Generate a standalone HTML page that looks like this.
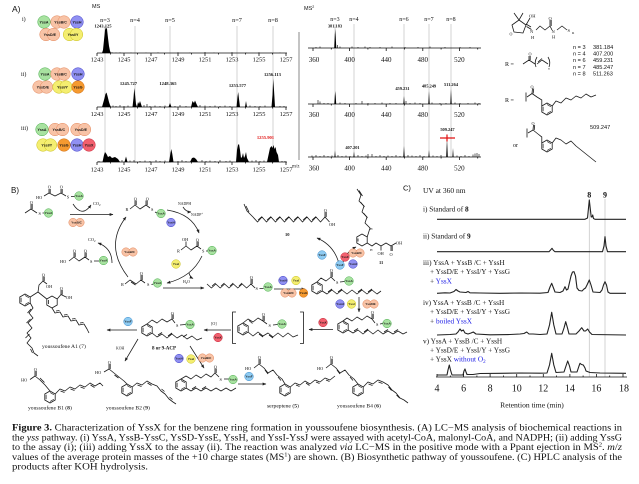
<!DOCTYPE html>
<html><head><meta charset="utf-8"><style>
html,body{margin:0;padding:0;background:#fff;width:639px;height:484px;overflow:hidden}
svg{display:block}
.s{font-family:"Liberation Serif",serif;fill:#111}
.a{font-family:"Liberation Sans",sans-serif;fill:#111}
.pl{font-family:"Liberation Sans",sans-serif;font-size:3px;font-weight:bold;text-anchor:middle;fill:#111}
.pa{font-size:3.6px}
.g{fill:#a8e2a0;stroke:#4caf50;stroke-width:.5}
.o{fill:#f8c3a6;stroke:#e3875c;stroke-width:.5}
.b{fill:#9090f2;stroke:#4040c8;stroke-width:.5}
.y{fill:#f4ee70;stroke:#c9c020;stroke-width:.5}
.d{fill:#f59a30;stroke:#d06a10;stroke-width:.5}
.r{fill:#f2606e;stroke:#c8283a;stroke-width:.5}
.l{fill:#8ecbf2;stroke:#3c8ccc;stroke-width:.5}
.bd{fill:none;stroke:#1a1a1a;stroke-width:.8;stroke-linejoin:round}
.ax{stroke:#111;stroke-width:.8;fill:none}
.gl{stroke:#c8c8c8;stroke-width:.8}
.ar{fill:none;stroke:#1a1a1a;stroke-width:.75;marker-end:url(#ah)}
.nz{stroke:#000;stroke-width:.6;fill:none}
.tr{fill:none;stroke:#222;stroke-width:1.1;stroke-linejoin:round}
.c{text-anchor:middle}
</style></head><body>
<svg width="639" height="484" viewBox="0 0 639 484" xmlns="http://www.w3.org/2000/svg">
<defs>
<marker id="ah" viewBox="0 0 10 10" refX="9" refY="5" markerWidth="5" markerHeight="5" orient="auto"><path d="M0,1 L10,5 L0,9 z" fill="#222"/></marker>
<g id="bz"><polygon points="0,-6 5.2,-3 5.2,3 0,6 -5.2,3 -5.2,-3" fill="none" stroke="#1a1a1a" stroke-width=".8"/><path d="M0,-4.5 L3.9,-2.25 M3.9,2.25 L0,4.5 M-3.9,2.25 L-3.9,-2.25" stroke="#1a1a1a" stroke-width=".7"/></g>
</defs>

<!-- ============ PANEL A ============ -->
<text x="12" y="12" class="a" font-size="8.5">A)</text>
<text x="92" y="8" class="a" font-size="5.5">MS</text>
<text x="22" y="21" class="s" font-size="6">i)</text>
<text x="21" y="76" class="s" font-size="6">ii)</text>
<text x="21" y="130" class="s" font-size="6">iii)</text>

<circle cx="44" cy="22" r="6.3" class="g"/><text x="44" y="23.3" class="pl pa">YssA</text>
<circle cx="57" cy="22" r="6.3" class="o"/><circle cx="64" cy="22" r="6.3" class="o"/><text x="60.5" y="23.3" class="pl pa">YssB/C</text>
<circle cx="77" cy="22" r="6.3" class="b"/><text x="77" y="23.3" class="pl pa">YssH</text>
<circle cx="46" cy="34.5" r="6.3" class="o"/><circle cx="53.5" cy="34.5" r="6.3" class="o"/><text x="49.8" y="35.8" class="pl pa">YssD/E</text>
<circle cx="69.5" cy="34.5" r="6.3" class="y"/><circle cx="76.5" cy="34.5" r="6.3" class="y"/><text x="73" y="35.8" class="pl pa">YssI/Y</text>
<circle cx="45" cy="74" r="6.3" class="g"/><text x="45" y="75.3" class="pl pa">YssA</text>
<circle cx="57" cy="74" r="6.3" class="o"/><circle cx="64" cy="74" r="6.3" class="o"/><text x="60.5" y="75.3" class="pl pa">YssB/C</text>
<circle cx="78" cy="74" r="6.3" class="b"/><text x="78" y="75.3" class="pl pa">YssH</text>
<circle cx="39" cy="87" r="6.3" class="o"/><circle cx="46.5" cy="87" r="6.3" class="o"/><text x="42.8" y="88.3" class="pl pa">YssD/E</text>
<circle cx="59" cy="87" r="6.3" class="y"/><circle cx="66" cy="87" r="6.3" class="y"/><text x="62.5" y="88.3" class="pl pa">YssI/Y</text>
<circle cx="78" cy="87" r="6.3" class="d"/><text x="78" y="88.3" class="pl pa">YssG</text>
<circle cx="42" cy="129.5" r="6.3" class="g"/><text x="42" y="130.8" class="pl pa">YssA</text>
<circle cx="55" cy="129.5" r="6.3" class="o"/><circle cx="62.5" cy="129.5" r="6.3" class="o"/><text x="58.8" y="130.8" class="pl pa">YssB/C</text>
<circle cx="77" cy="129.5" r="6.3" class="o"/><circle cx="84.5" cy="129.5" r="6.3" class="o"/><text x="80.8" y="130.8" class="pl pa">YssD/E</text>
<circle cx="43" cy="145" r="6.3" class="y"/><circle cx="50.5" cy="145" r="6.3" class="y"/><text x="46.8" y="146.3" class="pl pa">YssI/Y</text>
<circle cx="64" cy="145" r="6.3" class="d"/><text x="64" y="146.3" class="pl pa">YssG</text>
<circle cx="77" cy="145" r="6.3" class="b"/><text x="77" y="146.3" class="pl pa">YssH</text>
<circle cx="89" cy="145" r="6.3" class="r"/><text x="89" y="146.3" class="pl pa">YssX</text>

<g class="gl">
<line x1="105" y1="26" x2="105" y2="163"/><line x1="135" y1="26" x2="135" y2="163"/><line x1="170" y1="26" x2="170" y2="163"/><line x1="237" y1="26" x2="237" y2="163"/><line x1="273" y1="26" x2="273" y2="163"/>
</g>
<g class="s" font-size="6.3">
<text x="105" y="22" class="c">n=3</text><text x="135" y="22" class="c">n=4</text><text x="170" y="22" class="c">n=5</text><text x="237" y="22" class="c">n=7</text><text x="273" y="22" class="c">n=8</text>
</g>
<g class="s" font-size="4.6" font-weight="bold">
<text x="103" y="27.3" class="c">1243.125</text>
<text x="128.5" y="85" class="c">1245.727</text>
<text x="168" y="85" class="c">1248.365</text>
<text x="237.5" y="87" class="c">1253.577</text>
<text x="272.5" y="76" class="c">1256.113</text>
<text x="265.5" y="139" class="c" fill="#e01010">1255.901</text>
</g>

<g class="ax">
<path d="M97,53H287M97,107H287M97,162H287"/>
<path d="M97,53v3M124,53v3M151,53v3M178,53v3M205,53v3M232,53v3M259,53v3M286,53v3M110.5,53v1.5M137.5,53v1.5M164.5,53v1.5M191.5,53v1.5M218.5,53v1.5M245.5,53v1.5M272.5,53v1.5"/>
<path d="M97,107v3M124,107v3M151,107v3M178,107v3M205,107v3M232,107v3M259,107v3M286,107v3M110.5,107v1.5M137.5,107v1.5M164.5,107v1.5M191.5,107v1.5M218.5,107v1.5M245.5,107v1.5M272.5,107v1.5"/>
<path d="M97,162v3M124,162v3M151,162v3M178,162v3M205,162v3M232,162v3M259,162v3M286,162v3M110.5,162v1.5M137.5,162v1.5M164.5,162v1.5M191.5,162v1.5M218.5,162v1.5M245.5,162v1.5M272.5,162v1.5"/>
</g>
<g class="s" font-size="6.4">
<text x="97" y="61.5" class="c">1243</text><text x="124" y="61.5" class="c">1245</text><text x="151" y="61.5" class="c">1247</text><text x="178" y="61.5" class="c">1249</text><text x="205" y="61.5" class="c">1251</text><text x="232" y="61.5" class="c">1253</text><text x="259" y="61.5" class="c">1255</text><text x="286" y="61.5" class="c">1257</text>
<text x="97" y="116" class="c">1243</text><text x="124" y="116" class="c">1245</text><text x="151" y="116" class="c">1247</text><text x="178" y="116" class="c">1249</text><text x="205" y="116" class="c">1251</text><text x="232" y="116" class="c">1253</text><text x="259" y="116" class="c">1255</text><text x="286" y="116" class="c">1257</text>
<text x="97" y="171.5" class="c">1243</text><text x="124" y="171.5" class="c">1245</text><text x="151" y="171.5" class="c">1247</text><text x="178" y="171.5" class="c">1249</text><text x="205" y="171.5" class="c">1251</text><text x="232" y="171.5" class="c">1253</text><text x="259" y="171.5" class="c">1255</text><text x="286" y="171.5" class="c">1257</text>
</g>
<text x="292" y="167.5" class="s" font-size="5">m/z</text>

<g fill="#000">
<path d="M102,53 L103,50 L104,40 L105,30 L106,27.5 L107,29 L108,38 L109,46 L110,51 L111,53Z"/>
<path d="M102,107 L104,100 L105.5,94 L106.5,92.5 L107.5,96 L109,102 L110,105 L111,107Z"/>
<path d="M132.5,107 L133.5,98 L134.3,88 L135.2,96 L136,104 L137,107Z M137,107 L138,102 L139,104 L140,101 L141,104 L142,107Z"/>
<path d="M168.5,107 L170,103 L171.5,107Z M191,107 L192.5,101 L194,103 L195,100.5 L196.5,104 L198,107Z"/>
<path d="M236.5,107 L237.5,97 L238.2,92 L239,99 L240,107Z M245,107 L246,101 L247,107Z"/>
<path d="M271.5,107 L272.5,95 L273.2,78.5 L274,90 L275,107Z"/>
<path d="M102.5,162 L104,155 L105,152 L106.5,154 L108,157 L110,156 L112,158 L115,157 L118,159 L120,162Z"/>
<path d="M124.5,162 L126,156.5 L127.5,162Z M169,162 L170.5,153 L171.3,149 L172.3,154 L173.5,162Z M190,162 L192,158 L194,157.5 L196,159 L198,162Z"/>
<path d="M236,162 L237,150 L238,145 L239,144 L240,150 L241,158 L242,157 L243,153 L244,158 L245,156 L246,152 L247,158 L249,162Z"/>
<path d="M267,162 L268.5,155 L270,148 L271.5,146 L272.5,148 L273.5,145 L274.5,149 L275.5,147 L276.5,152 L278,155 L279,162Z"/>
</g>
<path class="nz" d="M112,53v-.8M116,53v-.5M120,53v-.6M131,53v-.5M146,53v-.5M158,53v-.6M178,53v-.8M190,53v-.5M205,53v-1M214,53v-.5M232,53v-.9M246,53v-.5M259,53v-.7M271,53v-.5M280,53v-.5"/>
<path class="nz" d="M113,107v-1.5M116,107v-1M120,107v-2M124,107v-1M128,107v-1.5M144,107v-2M147,107v-3M150,107v-1M155,107v-1.5M160,107v-1M165,107v-1.5M175,107v-1M180,107v-2M186,107v-1M200,107v-2M205,107v-1.5M210,107v-1M215,107v-1.5M220,107v-1M225,107v-1.5M230,107v-1M250,107v-1.5M255,107v-1M260,107v-1M265,107v-1.5M280,107v-1M284,107v-1"/>
<path class="nz" d="M99,162v-1M122,162v-2M130,162v-1.5M134,162v-2M140,162v-1M145,162v-1.5M150,162v-1M156,162v-2M160,162v-1M165,162v-1.5M178,162v-1M182,162v-2M186,162v-1M202,162v-2M206,162v-1M210,162v-1.5M215,162v-1M220,162v-2M226,162v-1M230,162v-1.5M252,162v-1.5M256,162v-2M260,162v-1M264,162v-1.5M282,162v-1M285,162v-1"/>

<line x1="299" y1="32" x2="299" y2="160" stroke="#aaa" stroke-width="1.4"/>

<text x="304" y="10" class="a" font-size="5.5">MS<tspan font-size="3.6" dy="-2">2</tspan></text>
<g class="gl">
<line x1="335" y1="24" x2="335" y2="158"/><line x1="354" y1="24" x2="354" y2="158"/><line x1="404" y1="24" x2="404" y2="158"/><line x1="429" y1="24" x2="429" y2="158"/><line x1="451" y1="24" x2="451" y2="158"/>
</g>
<g class="s" font-size="6">
<text x="335" y="21" class="c">n=3</text><text x="354" y="21" class="c">n=4</text><text x="404" y="21" class="c">n=6</text><text x="429" y="21" class="c">n=7</text><text x="451" y="21" class="c">n=8</text>
</g>
<g class="s" font-size="4.4" font-weight="bold">
<text x="335" y="27.5" class="c">381.183</text>
<text x="402.5" y="90" class="c">459.231</text>
<text x="429" y="87.5" class="c">485.249</text>
<text x="451" y="86" class="c">511.264</text>
<text x="447.5" y="131" class="c">509.247</text>
<text x="352.5" y="149" class="c">407.201</text>
</g>
<g class="ax">
<path d="M308,48H481M308,104H481M308,157H481"/>
<path d="M313,48v3M349.6,48v3M386.2,48v3M422.8,48v3M459.4,48v3M331.3,48v1.5M367.9,48v1.5M404.5,48v1.5M441.1,48v1.5M477.7,48v1.5"/>
<path d="M313,104v3M349.6,104v3M386.2,104v3M422.8,104v3M459.4,104v3M331.3,104v1.5M367.9,104v1.5M404.5,104v1.5M441.1,104v1.5M477.7,104v1.5"/>
<path d="M313,157v3M349.6,157v3M386.2,157v3M422.8,157v3M459.4,157v3M331.3,157v1.5M367.9,157v1.5M404.5,157v1.5M441.1,157v1.5M477.7,157v1.5"/>
</g>
<g class="s" font-size="7">
<text x="314" y="62" class="c">360</text><text x="349.6" y="62" class="c">400</text><text x="386.2" y="62" class="c">440</text><text x="422.8" y="62" class="c">480</text><text x="459.4" y="62" class="c">520</text>
<text x="314" y="117" class="c">360</text><text x="349.6" y="117" class="c">400</text><text x="386.2" y="117" class="c">440</text><text x="422.8" y="117" class="c">480</text><text x="459.4" y="117" class="c">520</text>
<text x="314" y="170.5" class="c">360</text><text x="349.6" y="170.5" class="c">400</text><text x="386.2" y="170.5" class="c">440</text><text x="422.8" y="170.5" class="c">480</text><text x="459.4" y="170.5" class="c">520</text>
</g>
<g fill="#000">
<path d="M334.2,48 L334.8,35 L335.2,29 L335.7,36 L336.3,48Z"/>
<path d="M334.3,104 L334.8,96 L335.2,91 L335.7,96 L336.2,104Z M403.3,104 L404,96 L404.7,104Z M428.3,104 L429,91 L429.7,104Z M450.3,104 L451,89 L451.7,104Z"/>
<path d="M334.4,157 L335,150.5 L335.6,157Z M353.4,157 L354,151.5 L354.6,157Z M403.3,157 L404,146 L404.7,157Z M428.4,157 L429,150 L429.6,157Z M446.2,157 L447,138 L447.8,157Z M452.4,157 L453,148 L453.6,157Z"/>
</g>
<path class="nz" d="M316,48v-1M320,48v-1.5M337.5,48v-3M340,48v-1.5M352,48v-1.5M358,48v-1M365,48v-1.5M370,48v-1M380,48v-1M392,48v-1.5M405,48v-1M418,48v-1M430,48v-1.5M445,48v-1M460,48v-1M470,48v-1"/>
<path class="nz" d="M318,104v-4M320,104v-2.5M324,104v-1M328,104v-1M340,104v-1.5M345,104v-1M356,104v-1M362,104v-3M368,104v-1M375,104v-1M382,104v-1.5M390,104v-1M396,104v-1M406,104v-3M410,104v-1M415,104v-1.5M420,104v-1M432,104v-1.5M440,104v-1M446,104v-1M455,104v-1.5M460,104v-1M468,104v-1M475,104v-1.5M479,104v-1"/>
<path class="nz" d="M312,157v-1.5M316,157v-2M320,157v-1M324,157v-2M328,157v-1M332,157v-1.5M338,157v-2M342,157v-1M346,157v-1.5M350,157v-1M358,157v-2M362,157v-1M366,157v-1.5M368,157v-3M372,157v-3M376,157v-1M380,157v-2M384,157v-1M388,157v-1.5M392,157v-1M396,157v-2M400,157v-1M408,157v-2M412,157v-1.5M416,157v-1M420,157v-2M424,157v-1M433,157v-1.5M437,157v-1M441,157v-2M457,157v-1.5M461,157v-1M465,157v-2M469,157v-1M473,157v-2.5M475,157v-3.5M477,157v-4M479,157v-3"/>
<path d="M440,138H455M447,134.5V141.5" stroke="#e01010" stroke-width="1.2"/>

<g class="bd">
<polygon points="512,25 519,20 526,25 523,33 514,32"/>
<path d="M519,20 L514,13 M519,20 L523,13 M526,25 L530,18 M526.5,26.5 L531.5,29.5 M526,24 L531,27 M536,30 L540,26 L545,30 L550,26 L552,30 M550,26 L550,20 M551.2,26 L551.2,20 M557,30 L562,26 L567,30"/>
</g>
<g class="s" font-size="4.5">
<text x="529" y="17.5">OH</text><text x="530" y="33">N</text><text x="531" y="39">H</text><text x="548.5" y="20">O</text><text x="551.5" y="33">N</text><text x="552" y="38.5">H</text><text x="567.5" y="32">S</text><text x="572" y="34" font-size="3.5">R</text><text x="509.5" y="35.5" font-size="4">O</text>
</g>
<g class="a" font-size="5.6">
<text x="573" y="49">n = 3</text><text x="593" y="49">381.184</text>
<text x="573" y="55.6">n = 4</text><text x="593" y="55.6">407.200</text>
<text x="573" y="62.2">n = 6</text><text x="593" y="62.2">459.231</text>
<text x="573" y="68.8">n = 7</text><text x="593" y="68.8">485.247</text>
<text x="573" y="75.4">n = 8</text><text x="593" y="75.4">511.263</text>
<text x="590" y="129">509.247</text>
</g>
<g class="s" font-size="6">
<text x="505" y="66">R =</text><text x="505" y="102">R =</text><text x="513" y="147">or</text>
</g>
<g class="bd">
<path d="M523,64 L529,60 L535,64 M529,60 L529,56 M530.2,60 L530.2,56 M536,67 Q534,62 537,57 M537,64 L542,60 L548,64 M538,62 L542,58.5 M548,57 Q551,62 549,67"/>
<path d="M526,92.5 V101.5 M527,97 L532,93.5 L537,97 L541.8,100 L541.8,106 M532,93.5 L532.5,88.5 M533.2,93.5 L533.7,88.5 M552.2,106 L556,101 L561,103 L566,98 L571,100 L576,96 L581,98 L586,94 L591,97 L596,95"/>
<path d="M527,128.5 V137.5 M528,133 L533,130 L538,134 L541.8,137 L541.8,143 M533,130 L533.5,125 M534.2,130 L534.7,125 M552.2,143 L556,138 L561,140 L566,144 L571,141 L576,146 L581,150 L586,154 L591,158 L596,162"/>
</g>
<use href="#bz" x="547" y="109"/><use href="#bz" x="547" y="146"/>
<g class="s" font-size="4.2"><text x="528.5" y="55.5">O</text><text x="530.5" y="88.5">O</text><text x="531.5" y="125">O</text><text x="548" y="69.5" font-size="3.5">n</text></g>

<!-- ============ PANEL B ============ -->
<text x="11" y="193" class="a" font-size="8">B)</text>
<g class="bd">
<path d="M44,196 L49,193 L55,196 L61,193 L66,196 M49,193 L49,189 M50.2,193 L50.2,189 M61,193 L61,189 M62.2,193 L62.2,189 M71,196.5 L74.7,196.5"/>
<path d="M25,213 L31,209 L37,213 M31,209 L31,204 M32.2,209 L32.2,204 M42.5,213 L44.5,213"/>
<path d="M130,209 L135,205 L140,209 L146,205 L150,208 M135,205 L135,200.5 M136.2,205 L136.2,200.5 M146,205 L146,200.5 M147.2,205 L147.2,200.5 M155,212 L157,213"/>
<path d="M181,250 L186,246 L191,250 L197,246 L201,249 M186,246 L186,241.5 M197,246 L197,241.5 M198.2,246 L198.2,241.5 M206,251 L208,251"/>
<path d="M125,284 L130,280 L136,284 L141,280 L145,283 M131,282 L135.5,285 M141,280 L141,275 M142.2,280 L142.2,275 M151.5,284.5 L153.5,284"/>
<path d="M69,261 L74,257 L79,261 L85,257 L89,260 M74,257 L74,252.5 M75.2,257 L75.2,252.5 M85,257 L85,252.5 M86.2,257 L86.2,252.5 M94,261 L99.5,261"/>
<polyline points="244,204 247,211 253,217 257.5,222 262,217 266.5,222 271,217 275.5,222 280,217 284.5,222 289,217 293.5,222 298,217 302.5,222 307,217 311.5,222 316,217 320.5,222 325,217 329.5,222"/>
<path d="M246,206 L249,212 M258,220 L262,216.5 M267,220 L271,216.5 M276,220 L280,216.5 M285,220 L289,216.5 M294,220 L298,216.5 M303,220 L307,216.5 M312,220 L316,216.5 M325,217 L325,212 M326.2,217 L326.2,212"/>
<polyline points="357,189 361,195 359,201 364,206 362,212 367,217 365,223 370,228 367.2,237"/>
<path d="M359,190.5 L362.5,196 M360.5,202 L364.5,207 M363.5,213 L367.5,218 M367.2,243 L372,246 L376,243 L381,246 L386,243 L391,246 L396,243 M381,246 L381,250.5 M391,246 L391,251 M392.2,246 L392.2,251"/>
<polygon points="362,234 367.2,237 367.2,243 362,246 356.8,243 356.8,237"/>
<path d="M358,238.5 L358,241.5"/>
<polyline points="207,284 211.4,288 215.8,284 220.2,288 224.6,284 229,288 233.4,284 237.8,288 242.2,284 246.6,288 251,284 255,288"/>
<path d="M212,286 L215.6,283 M221,286 L224.4,283 M230,286 L233.2,283 M239,286 L242,283 M251,284 L251,279 M252.2,284 L252.2,279 M259.5,288.5 L263.5,288.5"/>
<path d="M317,282 L321,278 L326,281 L331,277 L335,281 M331,277 L331,272 M332.2,277 L332.2,272 M340,282 L344.5,281.5 M322.2,291 L327,294 L332,290 L337,294 L342,290 L347,294 L352,290 L357,294 L362,290 L367,294 L372,290 L377,294 L381,291 M328,292 L332,289 M338,292 L342,289 M358,292 L362,289 M368,292 L372,289"/>
<path d="M343,321 L347,318 L352,321 L357,317 L362,320 L367,316 L372,319 L375,323 M372,319 L372,314 M373.2,319 L373.2,314 M380,324 L382.5,323.5 M348,330 L353,333 L358,330 L363,334 L368,330 L373,334 L378,330 L383,334 L388,331 L393,334 L398,331 L403,334 L407,332 M354,331 L358,328.5 M364,332 L368,329 M384,332 L388,329.5 M394,332 L398,329.5"/>
<path d="M236,312 L232.5,312 L232.5,343.5 L236,343.5 M300,312 L303.5,312 L303.5,343.5 L300,343.5"/>
<path d="M243,323 L248,319 L253,322 L258,318 L263,321 L267,324 M263,321 L263,316 M264.2,321 L264.2,316 M273,325 L277.5,324.5 M248,332 L253,336 L258,332 L263,336 L268,333 L273,337 L278,333 L283,337 L288,333 L293,337 L298,335 M249,320.5 L252.5,323.5 M259,334 L263,337 M269,335 L273,338"/>
<path d="M147,324 L152,320 L157,323 L162,319 L167,322 L172,319 L175,323 M172,319 L172,314.5 M173.2,319 L173.2,314.5 M180,325 L185.5,324.5 M152,333 L157,337 L162,334 L167,338 L172,334 L177,338 L182,335 L187,339 L192,336 L197,340 L202,338 M158,335 L162,332.5 M168,336 L172,333 M183,337 L187,334.5"/>
<path d="M181,379 L186,376 L191,379 L196,375 L201,378 L206,374 L211,377 L215,373 L219,377 M215,373 L215,368.5 M216.2,373 L216.2,368.5 M224,379 L228.5,379 M186,388 L191,391 L196,388 L201,391 L206,388 L211,391 L216,388 L221,391 L226,388 L231,391 L236,388 M192,389 L196,386.5 M202,389 L206,386.5"/>
<path d="M30.2,297 L38,292 L46.8,299 M38,292 L39,285 L43,281 L47,284 M43,281 L43,276.5 M44.2,281 L44.2,276.5 M57.2,299 L61,294.5 L66,297 M61,294.5 L61,290 M62.2,294.5 L62.2,290"/>
<polygon points="52,296 57.2,299 57.2,305 52,308 46.8,305 46.8,299"/>
<path d="M48.5,300 L48.5,304"/>
<polyline points="30.2,303 33,308 29,313 33,318 28,323 32,328 27,333 31,338 27,343 32,348 34,353 38,356"/>
<path d="M31,309 L27.5,313 M30.5,319 L26.5,323 M29.5,334 L25.5,338 M30.5,349 L32.5,353"/>
<polyline points="52,308 55,313 60,312 63,317 68,316 71,321 76,320 79,325 84,324 87,329 89,333"/>
<path d="M56,311 L59.5,310.5 M64,315 L67.5,314.5 M72,319 L75.5,318.5 M80,323 L83.5,322.5"/>
<path d="M30,379.5 L35,376 L40,380 L45,385 L50,391 M35,376 L35,371 M36.2,376 L36.2,371 M40,378 L44.5,382.5 M55.2,394 L60,389 L65,391 L70,387 L75,389 L80,385 L85,387 L90,383 L95,386 L100,383 L103,386 M60.5,391 L64.5,392.5 M70.5,389 L74.5,390.5 M80.5,387 L84.5,388.5 M90.5,385 L94.5,387.5"/>
<path d="M104,372 L109,369 L114,373 L119,377 L124,381 L127,384 M109,369 L109,364 M110.2,369 L110.2,364 M114.5,375 L118.5,378 M132.2,387 L137,383 L142,385 L147,381 L152,384 L157,386 L161,391 L165,394 L169,399 L173,402 L176,404 M137.5,385 L141.5,386.5 M147.5,383 L151.5,385.5 M161.5,389 L164.5,391.5 M169.5,397 L172.5,399.5"/>
<path d="M254,368 L259,364 L264,368 L268,373 L273,370 L277,375 L282,379 L285,384 M259,364 L259,359 M260.2,364 L260.2,359 M265,370 L268,374 M278,377 L281,380.5 M290.2,387 L295,383 L300,385 L305,381 L310,384 L315,380 L320,382 L325,378 L330,380 L335,376 M296,385 L299.5,386.5 M306,383 L309.5,385.5 M316,382 L319.5,383.5 M326,380 L329.5,381.5"/>
<path d="M326,368 L331,364 L336,368 L340,373 L345,370 L349,375 L354,379 L358,384 M331,364 L331,359 M332.2,364 L332.2,359 M337,370 L340,374 M350,377 L353,380.5 M363.2,387 L368,382 L373,384 L378,380 L383,382 L388,385 L392,390 L396,393 L400,398 L404,400 L408,403 M368.5,384 L372.5,385.5 M378.5,382 L382.5,383.5 M388.5,387 L391.5,390.5 M396.5,395 L399.5,398"/>
</g>
<use href="#bz" x="317" y="288"/><use href="#bz" x="343" y="327"/><use href="#bz" x="243" y="329"/><use href="#bz" x="147" y="330"/><use href="#bz" x="181" y="385"/><use href="#bz" x="25" y="300"/><use href="#bz" x="50" y="397"/><use href="#bz" x="127" y="390"/><use href="#bz" x="285" y="390"/><use href="#bz" x="358" y="390"/>

<path class="ar" d="M73,204 Q82,218 91,205"/>
<path class="ar" d="M70,214.5 L113,214.5"/>
<path class="ar" d="M183,207 Q186,212 191,212"/>
<path class="ar" d="M167,210 Q192,214 199,233"/>
<path class="ar" d="M202,256 Q192,277 167,283"/>
<path class="ar" d="M189,273 Q190,277 193,278.5"/>
<path class="ar" d="M163,288 L204,288"/>
<path class="ar" d="M112,263 Q112,248 98,243"/>
<path class="ar" d="M128,277 Q104,246 126,217"/>
<path class="ar" d="M340,268 Q336,246 317,238"/>
<path class="ar" d="M343,262 Q347,251 356,247"/>
<path class="ar" d="M274,289 L305,289"/>
<path class="ar" d="M359,297 L359,312"/>
<path class="ar" d="M333,329.5 L309,329.5"/>
<path class="ar" d="M231,330 L204,330"/>
<path class="ar" d="M137,330 L107,330"/>
<path class="ar" d="M138,339 L125,361"/>
<path class="ar" d="M190,346 L204,368"/>
<path class="ar" d="M238,384 L266,384"/>

<g class="s" font-size="4.3">
<text x="36" y="199">HO</text><text x="47.8" y="188.5">O</text><text x="59.8" y="188.5">O</text><text x="66.8" y="198.5">S</text>
<text x="29.8" y="204">O</text><text x="38.5" y="215">S</text>
<text x="93" y="205">CO<tspan font-size="3" dy="1">2</tspan></text>
<text x="125.5" y="211">R</text><text x="133.8" y="200.5">O</text><text x="145.8" y="200.5">O</text><text x="151" y="211">S</text>
<text x="178" y="205" font-size="3.8">NADPH</text><text x="191" y="216" font-size="3.8">NADP<tspan font-size="2.8" dy="-1.5">+</tspan></text>
<text x="182" y="241">OH</text><text x="177" y="252.5">R</text><text x="195.8" y="241.5">O</text><text x="202" y="252.5">S</text>
<text x="183" y="283" font-size="3.8">H<tspan font-size="2.8" dy="1">2</tspan><tspan dy="-1">O</tspan></text>
<text x="121" y="286">R</text><text x="139.8" y="275">O</text><text x="147" y="286">S</text>
<text x="88" y="241">CO<tspan font-size="3" dy="1">2</tspan></text>
<text x="60" y="263">HO</text><text x="72.8" y="252.5">O</text><text x="83.8" y="252.5">O</text><text x="90" y="263">S</text>
<text x="323.8" y="212">O</text><text x="329" y="226">OH</text>
<text x="285" y="236" font-size="4.5" font-weight="bold">10</text>
<text x="370" y="230" font-size="3.5">H</text><text x="370" y="251" font-size="3.5">H</text>
<text x="377.5" y="255">OH</text><text x="389.5" y="256">O</text><text x="396" y="244.5">OH</text>
<text x="379" y="264" font-size="4.5" font-weight="bold">11</text>
<text x="249.8" y="279">O</text><text x="255.5" y="290">S</text>
<text x="329.8" y="272">O</text><text x="336" y="284">S</text>
<text x="370.8" y="314">O</text><text x="376" y="326">S</text>
<text x="261.8" y="316">O</text><text x="268.5" y="327">S</text>
<text x="211" y="325" font-size="4">[O]</text>
<text x="170.8" y="315">O</text><text x="176" y="327">S</text>
<text x="116" y="349.5" font-size="3.8">KOH</text>
<text x="213.8" y="368.5">O</text><text x="219.5" y="381">S</text>
<text x="41.8" y="276.5">O</text><text x="46" y="288">OH</text><text x="59.8" y="290">O</text><text x="66" y="299">OH</text>
<text x="21" y="381.5">HO</text><text x="33.8" y="371">O</text>
<text x="95" y="374">HO</text><text x="107.8" y="364">O</text>
<text x="245" y="370">HO</text><text x="257.8" y="359">O</text>
<text x="317" y="370">HO</text><text x="329.8" y="359">O</text>
</g>
<g class="s" font-size="5.6">
<text x="42" y="348">youssoufene A1 (7)</text>
<text x="152" y="349.5" font-size="5" font-weight="bold">8 or 9-ACP</text>
<text x="28" y="409.5">youssoufene B1 (<tspan font-weight="bold">8</tspan>)</text>
<text x="106" y="409.5">youssoufene B2 (<tspan font-weight="bold">9</tspan>)</text>
<text x="267" y="407.5">serpeptene (<tspan font-weight="bold">5</tspan>)</text>
<text x="337" y="407.5">youssoufene B4 (<tspan font-weight="bold">6</tspan>)</text>
</g>

<circle cx="79" cy="196" r="4.3" class="g"/><text x="79" y="197.1" class="pl">YssA</text>
<circle cx="48.5" cy="213" r="4.3" class="g"/><text x="48.5" y="214.1" class="pl">YssA</text>
<circle cx="73" cy="222.5" r="4.2" class="o"/><circle cx="80" cy="222.5" r="4.2" class="o"/><text x="76.5" y="223.6" class="pl">YssB/C</text>
<circle cx="161" cy="213.5" r="4.3" class="g"/><text x="161" y="214.6" class="pl">YssA</text>
<circle cx="171" cy="222.5" r="4.3" class="b"/><text x="171" y="223.6" class="pl">YssH</text>
<circle cx="212" cy="250.5" r="4.3" class="g"/><text x="212" y="251.6" class="pl">YssA</text>
<circle cx="176" cy="264" r="4.3" class="y"/><text x="176" y="265.1" class="pl">YssI</text>
<circle cx="157.5" cy="283" r="4.3" class="g"/><text x="157.5" y="284.1" class="pl">YssA</text>
<circle cx="126" cy="252" r="4.2" class="o"/><circle cx="133" cy="252" r="4.2" class="o"/><text x="129.5" y="253.1" class="pl">YssB/C</text>
<circle cx="103.5" cy="260.5" r="4.3" class="g"/><text x="103.5" y="261.6" class="pl">YssA</text>
<circle cx="322" cy="255" r="4.3" class="l"/><text x="322" y="256.1" class="pl">YssF</text>
<circle cx="353" cy="253" r="4.2" class="o"/><circle cx="360" cy="253" r="4.2" class="o"/><text x="356.5" y="254.1" class="pl">YssB/C</text>
<circle cx="345" cy="257" r="4.3" class="r"/><text x="345" y="258.1" class="pl">YssX</text>
<circle cx="340" cy="265" r="4.3" class="l"/><text x="340" y="266.1" class="pl">YssF</text>
<circle cx="353" cy="264" r="4.3" class="b"/><text x="353" y="265.1" class="pl">YssH</text>
<circle cx="268" cy="287" r="4.3" class="g"/><text x="268" y="288.1" class="pl">YssA</text>
<circle cx="283" cy="280.5" r="4.3" class="b"/><text x="283" y="281.6" class="pl">YssH</text>
<circle cx="296" cy="280.5" r="4.3" class="y"/><text x="296" y="281.6" class="pl">YssI</text>
<circle cx="285" cy="293" r="4.2" class="o"/><circle cx="292" cy="293" r="4.2" class="o"/><text x="288.5" y="294.1" class="pl">YssB/C</text>
<circle cx="303.5" cy="293" r="4.3" class="d"/><text x="303.5" y="294.1" class="pl">YssG</text>
<circle cx="349" cy="281" r="4.3" class="g"/><text x="349" y="282.1" class="pl">YssA</text>
<circle cx="340" cy="304" r="4.3" class="b"/><text x="340" y="305.1" class="pl">YssH</text>
<circle cx="351.5" cy="304" r="4.3" class="y"/><text x="351.5" y="305.1" class="pl">YssI</text>
<circle cx="367" cy="304" r="4.2" class="o"/><circle cx="374" cy="304" r="4.2" class="o"/><text x="370.5" y="305.1" class="pl">YssD/E</text>
<circle cx="387" cy="323.5" r="4.3" class="g"/><text x="387" y="324.6" class="pl">YssA</text>
<circle cx="323" cy="322.5" r="4.3" class="r"/><text x="323" y="323.6" class="pl">YssX</text>
<circle cx="282" cy="324" r="4.3" class="g"/><text x="282" y="325.1" class="pl">YssA</text>
<circle cx="218" cy="337.5" r="4.3" class="r"/><text x="218" y="338.6" class="pl">YssX</text>
<circle cx="190" cy="324.5" r="4.3" class="g"/><text x="190" y="325.6" class="pl">YssA</text>
<circle cx="128" cy="321.5" r="4.3" class="l"/><text x="128" y="322.6" class="pl">YssF</text>
<circle cx="179" cy="358.5" r="4.3" class="b"/><text x="179" y="359.6" class="pl">YssH</text>
<circle cx="191" cy="359" r="4.3" class="y"/><text x="191" y="360.1" class="pl">YssI</text>
<circle cx="202.5" cy="358" r="4.2" class="o"/><circle cx="209.5" cy="358" r="4.2" class="o"/><text x="206" y="359.1" class="pl">YssB/C</text>
<circle cx="233" cy="379.5" r="4.3" class="g"/><text x="233" y="380.6" class="pl">YssA</text>
<circle cx="249" cy="376.5" r="4.3" class="l"/><text x="249" y="377.6" class="pl">YssF</text>

<!-- ============ PANEL C ============ -->
<text x="403" y="190.5" class="a" font-size="7.5">C)</text>
<text x="423" y="193" class="s" font-size="7.5">UV  at 360 nm</text>
<text x="589.3" y="197.5" class="s c" font-size="8" font-weight="bold">8</text>
<text x="605" y="197.5" class="s c" font-size="8" font-weight="bold">9</text>
<line x1="589.3" y1="199" x2="589.3" y2="377" class="gl"/>
<line x1="605" y1="199" x2="605" y2="377" class="gl"/>
<g class="s" font-size="7.3">
<text x="423" y="211.5">i) Standard of <tspan font-weight="bold">8</tspan></text>
<text x="423" y="238.5">ii) Standard of <tspan font-weight="bold">9</tspan></text>
<text x="423" y="265">iii) YssA + YssB /C + YssH</text>
<text x="430" y="274.2">+ YssD/E  + YssI/Y + YssG</text>
<text x="430" y="283.5">+ <tspan fill="#1a1ae6">YssX</tspan></text>
<text x="423" y="305">iv) YssA + YssB /C + YssH</text>
<text x="430" y="314.2">+ YssD/E  + YssI/Y + YssG</text>
<text x="430" y="323.3">+ <tspan fill="#1a1ae6">boiled YssX</tspan></text>
<text x="423" y="343.5">v) YssA + YssB /C + YssH</text>
<text x="430" y="352.6">+ YssD/E  + YssI/Y + YssG</text>
<text x="430" y="361.6">+ YssX <tspan fill="#1a1ae6">without O<tspan font-size="5" dy="1.2">2</tspan></tspan></text>
</g>
<polyline class="tr" points="437,219.3 585,219.3 587.5,218 588.5,208 589.3,200 590.2,208 591.2,217 592,217 592.7,215 593.5,218.5 595,219.3 626,219.3"/>
<polyline class="tr" points="437,251.7 549,251.7 551,249.5 552,248.3 553.5,250.5 555,251.7 602.5,251.7 604,246 605,236.7 606,246 607.5,251.7 626,251.7"/>
<polyline class="tr" points="437,293.3 445,292.8 450,293 454,291.5 456,289.5 458,291 460,292 466,292.5 468,291.5 470,292.8 480,293 500,293.3 520,293 540,293.2 548,292.5 550,287 551.7,283.3 553.5,288 555,292 560,292.5 563,291 565,286.7 566.5,290 568,289 571,276 572.5,272 574,271.7 575.5,276 577,288 579,290.5 582,291 584,289 585.5,288 587,285 589.3,280 591,285 593,292 600,292.5 602,290 603.5,285 605,281.7 606.5,285 608,292 610,293.3 626,293.3"/>
<polyline class="tr" points="437,335 450,334.5 456,334 458,332 460,329 461.5,331 463.3,330 465,333 468,334 471,333 473.3,332 476,334 490,334.8 510,334.5 520,334 524,333.5 526.7,332 529,334 533,334 540,334.5 547,334 549.5,325 551.7,312.3 553.8,325 556,334 562,334 564,328 565.7,321.7 567.5,328 569,334 576,334 579,331 581.7,327.7 584,331 585.5,331 587.7,329 589.5,332 592,334.5 626,335"/>
<polyline class="tr" points="437,375 447,375 448,370 449.3,365 450.5,370 452,375 463,375 464,371 465,369 466,372 467,374.5 473,374.5 480,373.5 500,373.3 520,373 540,373.2 547,373 549.5,365 551.7,353.3 553.8,365 556,372.5 564,372 566,366 567.7,361 569.5,366 571,372 577,372 579,366 580,363.3 581.5,364.5 583.3,365 585,368 586,371 590,372.5 600,373 626,373.3"/>
<g class="ax">
<path d="M436,377H627"/>
<path d="M437,377v-3M463.6,377v-3M490.1,377v-3M516.7,377v-3M543.3,377v-3M569.9,377v-3M596.4,377v-3M623,377v-3M450.3,377v-1.5M476.9,377v-1.5M503.4,377v-1.5M530,377v-1.5M556.6,377v-1.5M583.1,377v-1.5M609.7,377v-1.5"/>
</g>
<g class="s c" font-size="10">
<text x="437" y="391.5">4</text><text x="463.6" y="391.5">6</text><text x="490.1" y="391.5">8</text><text x="516.7" y="391.5">10</text><text x="543.3" y="391.5">12</text><text x="569.9" y="391.5">14</text><text x="596.4" y="391.5">16</text><text x="624" y="391.5">18</text>
</g>
<text x="532" y="407.5" class="s c" font-size="7.6">Retention time (min)</text>

<!-- ============ CAPTION ============ -->
<g class="s" font-size="9.6">
<text x="12" y="430.5" textLength="610" lengthAdjust="spacingAndGlyphs"><tspan font-weight="bold">Figure 3.</tspan> Characterization of YssX for the benzene ring formation in youssoufene biosynthesis. (A) LC−MS analysis of biochemical reactions in</text>
<text x="12" y="440.3" textLength="610" lengthAdjust="spacingAndGlyphs">the <tspan font-style="italic">yss</tspan> pathway. (i) YssA, YssB-YssC, YsSD-YssE, YssH, and YssI-YssJ were assayed with acetyl-CoA, malonyl-CoA, and NADPH; (ii) adding YssG</text>
<text x="12" y="450" textLength="610" lengthAdjust="spacingAndGlyphs">to the assay (i); (iii) adding YssX to the assay (ii). The reaction was analyzed <tspan font-style="italic">via</tspan> LC−MS in the positive mode with a Ppant ejection in MS<tspan font-size="6" dy="-3.5">2</tspan><tspan dy="3.5">. </tspan><tspan font-style="italic">m</tspan>/<tspan font-style="italic">z</tspan></text>
<text x="12" y="459.8" textLength="610" lengthAdjust="spacingAndGlyphs">values of the average protein masses of the +10 charge states (MS<tspan font-size="6" dy="-3.5">1</tspan><tspan dy="3.5">) are shown. (B) Biosynthetic pathway of youssoufene. (C) HPLC analysis of the</tspan></text>
<text x="12" y="469.5" textLength="136" lengthAdjust="spacingAndGlyphs">products after KOH hydrolysis.</text>
</g>
</svg>
</body></html>
